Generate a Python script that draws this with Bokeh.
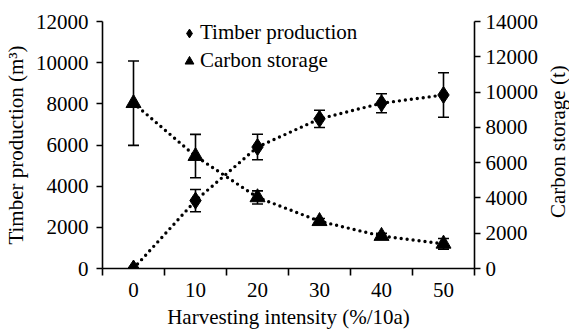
import math
from bokeh.plotting import figure
from bokeh.layouts import row
from bokeh.core.properties import value
from bokeh.models import (Range1d, LinearAxis, FixedTicker, ColumnDataSource, Whisker,
                          TeeHead, Legend, LegendItem)
from bokeh.embed import file_html
from bokeh.resources import INLINE

# ---- data ----
intensity = [0, 10, 20, 30, 40, 50]
timber = [0, 3300, 5900, 7270, 8030, 8430]
timber_err = [0, 540, 620, 420, 460, 1080]
carbon = [9370, 6370, 4030, 2680, 1840, 1400]
carbon_err = [2390, 1230, 370, 150, 150, 300]
x_ticks = [0, 10, 20, 30, 40, 50]
x_bounds = [-5, 5, 15, 25, 35, 45, 55]
left_ticks = [0, 2000, 4000, 6000, 8000, 10000, 12000]
right_ticks = [0, 2000, 4000, 6000, 8000, 10000, 12000, 14000]
right_title = "Carbon storage (t)"

FONT = "Liberation Serif"
FS = "21px"

p = figure(width=541, height=331, output_backend="svg", toolbar_location=None,
           x_range=Range1d(-5, 55), y_range=Range1d(0, 12000),
           min_border_left=96, min_border_right=64, min_border_top=21, min_border_bottom=61)
p.extra_y_ranges = {"right": Range1d(0, 14000)}
p.grid.visible = False
p.outline_line_color = None
p.background_fill_color = "white"
p.border_fill_color = "white"

# axes styling
xa = p.xaxis[0]
xa.ticker = FixedTicker(ticks=x_ticks, minor_ticks=x_bounds)
xa.major_tick_in = 0
xa.major_tick_out = 0
xa.minor_tick_in = 0
xa.minor_tick_out = 7
xa.axis_label = "Harvesting intensity (%/10a)"

ya = p.yaxis[0]
ya.ticker = FixedTicker(ticks=left_ticks)
ya.axis_label = "Timber production (m³)"

ra = LinearAxis(y_range_name="right", ticker=FixedTicker(ticks=right_ticks))
p.add_layout(ra, "right")

for ax in (xa, ya, ra):
    ax.axis_line_width = 1.6
    ax.axis_line_color = "black"
    ax.major_tick_line_width = 1.6
    ax.minor_tick_line_width = 1.6
    ax.major_tick_line_color = "black"
    ax.minor_tick_line_color = "black"
    ax.major_label_text_font = FONT
    ax.major_label_text_font_size = FS
    ax.major_label_text_color = "black"
    ax.axis_label_text_font = FONT
    ax.axis_label_text_font_size = FS
    ax.axis_label_text_font_style = "normal"
    ax.axis_label_text_color = "black"
for ax in (ya, ra):
    ax.major_tick_in = 0
    ax.major_tick_out = 6
    ax.minor_tick_out = 0
    ax.minor_tick_in = 0
    ax.axis_label_standoff = 5
ya.major_label_standoff = 8
ra.major_label_standoff = 5
xa.major_label_standoff = 7
xa.axis_label_standoff = 5

# ---- sources ----
ts = ColumnDataSource(dict(x=intensity, y=timber))
cs = ColumnDataSource(dict(x=intensity, y=carbon))
te = ColumnDataSource(dict(x=[a for a, e in zip(intensity, timber_err) if e > 0],
                           lo=[v - e for v, e in zip(timber, timber_err) if e > 0],
                           hi=[v + e for v, e in zip(timber, timber_err) if e > 0]))
ce = ColumnDataSource(dict(x=intensity,
                           lo=[v - e for v, e in zip(carbon, carbon_err)],
                           hi=[v + e for v, e in zip(carbon, carbon_err)]))

# lines
p.line("x", "y", source=ts, line_color="black", line_width=3.4, line_dash="0 6", line_cap="round")
p.line("x", "y", source=cs, line_color="black", line_width=3.4, line_dash="0 6", line_cap="round",
       y_range_name="right")

# error bars
w1 = Whisker(base="x", lower="lo", upper="hi", source=te, line_color="black", line_width=1.6,
             upper_head=TeeHead(size=11, line_width=1.6, line_color="black"),
             lower_head=TeeHead(size=11, line_width=1.6, line_color="black"))
w2 = Whisker(base="x", lower="lo", upper="hi", source=ce, line_color="black", line_width=1.6,
             y_range_name="right",
             upper_head=TeeHead(size=11, line_width=1.6, line_color="black"),
             lower_head=TeeHead(size=11, line_width=1.6, line_color="black"))
p.add_layout(w1)
p.add_layout(w2)

# markers
rt = p.scatter("x", "y", source=ts, marker="diamond", size=17, color="black")
rc = p.scatter("x", "y", source=cs, marker="triangle", size=15, color="black", y_range_name="right")

legend = Legend(items=[LegendItem(label="Timber production", renderers=[rt]),
                       LegendItem(label="Carbon storage", renderers=[rc])],
                location=(76, 195), orientation="vertical",
                label_text_font=FONT, label_text_font_size=FS, label_text_color="black",
                glyph_width=22, glyph_height=24, label_height=24, spacing=3,
                label_standoff=0, padding=0, margin=0,
                border_line_color=None, background_fill_alpha=0)
p.add_layout(legend)

# narrow companion figure holding the right-hand title, reading bottom-to-top
p2 = figure(width=28, height=331, output_backend="svg", toolbar_location=None,
            x_range=Range1d(0, 1), y_range=Range1d(0, 331),
            x_axis_location=None, y_axis_location=None,
            min_border_left=0, min_border_right=0, min_border_top=0, min_border_bottom=0)
p2.grid.visible = False
p2.outline_line_color = None
p2.background_fill_color = "white"
p2.border_fill_color = "white"
p2.text(x=[0.6], y=[170], text=[right_title], angle=math.pi / 2,
        text_align="center", text_baseline="middle",
        text_font=value(FONT), text_font_size=value(FS), text_color="black")

layout = row(p, p2, spacing=0)
open("out.html", "w").write(file_html(layout, INLINE))
